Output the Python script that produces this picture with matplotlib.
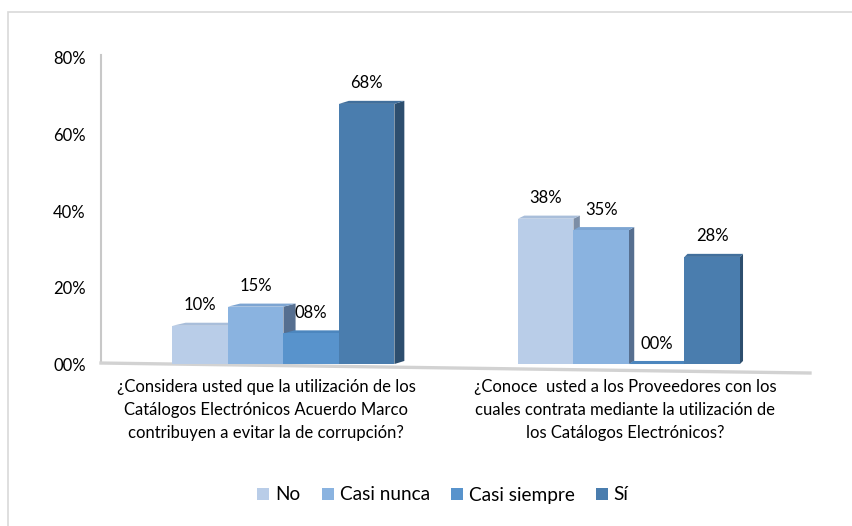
import numpy as np
import matplotlib
matplotlib.use('Agg')
import matplotlib.pyplot as plt
from matplotlib.patches import Polygon, Rectangle, Patch
from matplotlib.ticker import FuncFormatter

plt.rcParams['font.family'] = ['Lato', 'DejaVu Sans']

preguntas = ['¿Considera usted que la utilización de los\nCatálogos Electrónicos Acuerdo Marco\ncontribuyen a evitar la de corrupción?',
             '¿Conoce  usted a los Proveedores con los\ncuales contrata mediante la utilización de\nlos Catálogos Electrónicos?']
respuestas = ['No', 'Casi nunca', 'Casi siempre', 'Sí']
valores = [[0.10, 0.38],   # No
           [0.15, 0.35],   # Casi nunca
           [0.08, 0.00],   # Casi siempre
           [0.68, 0.28]]   # Sí

frente = ['#B9CDE8', '#8AB3E0', '#5893CC', '#4A7DAE']
lado = ['#7D8EA6', '#566F90', '#3F6C96', '#2D4E6E']
techo = ['#A9BEDA', '#7DA5D2', '#4C86BE', '#416F9C']

fig = plt.figure(figsize=(8.53, 5.26), dpi=100)
fig.patches.append(Rectangle((8/853, -0.05), 1.0, (526-12)/526 + 0.05, transform=fig.transFigure,
                             fill=False, edgecolor='#D9D9D9', linewidth=1.2))
ax = fig.add_axes([101/853, (526-375.5)/526, (810-101)/853, (375.5-58)/526])
ax.set_xlim(-0.528, 1.524)
ax.set_ylim(-0.03, 0.80)
for s in ax.spines.values():
    s.set_visible(False)

# paredes / piso
ax.plot([-0.528, -0.528], [0.0026, 0.808], color='#C8C8C8', lw=1.5, clip_on=False)
ax.plot([-0.528, 1.524], [0.0026, -0.0235], color='#D2D2D2', lw=2.4, clip_on=False)

w = 0.1606
x = np.arange(len(preguntas))
dy = 0.008
for j in range(len(preguntas)):
    for i in range(len(respuestas)):
        h = valores[i][j]
        xl = x[j] + (i - 2) * w
        xr = xl + w
        dx = 0.0198 * (1.773 - xr)
        ax.add_patch(Polygon([(xr, 0), (xr + dx, dy), (xr + dx, h + dy), (xr, h)],
                             closed=True, facecolor=lado[i], edgecolor='none', zorder=2 + i))
        ax.add_patch(Polygon([(xl, h), (xl + dx, h + dy), (xr + dx, h + dy), (xr, h)],
                             closed=True, facecolor=techo[i], edgecolor='none', zorder=2 + i))
        ax.bar(xl, h, width=w, align='edge', color=frente[i], zorder=2 + i)
        ax.annotate('%02d%%' % round(h * 100), (xl + w / 2, h), xytext=(0, 9),
                    textcoords='offset points', ha='center', va='bottom', fontsize=12, zorder=10)

ax.set_yticks([0, 0.2, 0.4, 0.6, 0.8])
ax.yaxis.set_major_formatter(FuncFormatter(lambda v, p: '%02d%%' % round(v * 100)))
ax.set_xticks(x - np.array([0.05, 0.01]))
ax.set_xticklabels(preguntas, fontsize=12, linespacing=1.55)
ax.tick_params(axis='y', length=0, pad=11, labelsize=12)
ax.tick_params(axis='x', length=0, pad=2.5)

handles = [Patch(facecolor=c) for c in frente]
fig.legend(handles, respuestas, loc='center', bbox_to_anchor=(443/853, 1 - 495/526), ncol=4,
           frameon=False, fontsize=13.7, handlelength=0.63, handleheight=0.63,
           handletextpad=0.32, columnspacing=1.1)

fig.savefig('out.png', dpi=100)
